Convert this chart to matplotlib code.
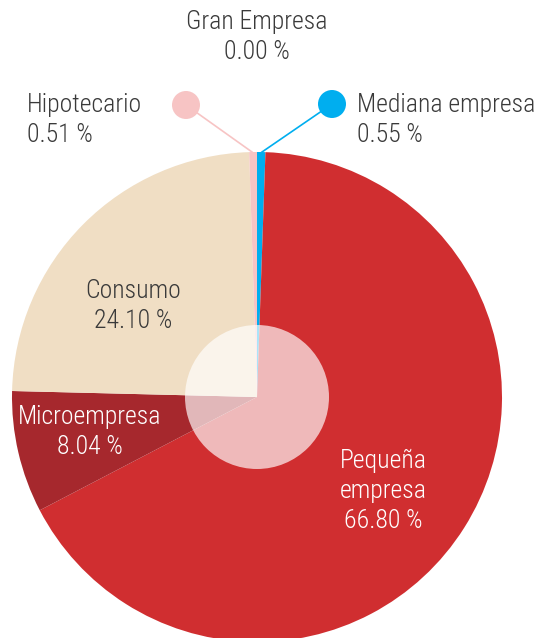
import matplotlib
matplotlib.use("Agg")
import matplotlib.pyplot as plt
from matplotlib.patches import Circle

categories = ["Gran Empresa", "Mediana empresa", "Pequeña\nempresa", "Microempresa", "Consumo", "Hipotecario"]
values = [0.00, 0.55, 66.80, 8.04, 24.10, 0.51]
value_labels = ["0.00 %", "0.55 %", "66.80 %", "8.04 %", "24.10 %", "0.51 %"]
colors = ["#1b4f8a", "#00AEEF", "#D02E30", "#A6282D", "#F0DEC4", "#F7C4C4"]

plt.rcParams['font.family'] = ['Roboto Condensed', 'DejaVu Sans']

W, H = 540, 638
fig = plt.figure(figsize=(W / 100, H / 100), dpi=100)
ax = fig.add_axes([0, 0, 1, 1])

cx, cy, R = 257, H - 397, 245
ax.pie(values, colors=colors, startangle=90, counterclock=False,
       center=(cx, cy), radius=R, frame=True,
       wedgeprops=dict(linewidth=0))
ax.add_patch(Circle((cx, cy), 72, facecolor="white", alpha=0.67, lw=0, zorder=5))

ax.set_xlim(0, W)
ax.set_ylim(0, H)
ax.set_aspect("equal")
ax.axis("off")

dark = "#3a3a3a"
fs = 18.5
fw = 300
ls = 1.32

def y(p):
    return H - p

# Gran Empresa
ax.text(257, y(37), f"{categories[0]}\n{value_labels[0]}", ha="center", va="center",
        fontsize=fs, color=dark, linespacing=ls, fontweight=fw)
# Mediana empresa (callout)
ax.plot([262, 332], [y(152), y(104)], color=colors[1], lw=1.2, zorder=6)
ax.add_patch(Circle((332, y(104)), 14, facecolor=colors[1], lw=0, zorder=7))
ax.text(357, y(120), f"{categories[1]}\n{value_labels[1]}", ha="left", va="center",
        fontsize=fs, color=dark, linespacing=ls, fontweight=fw)
# Hipotecario (callout)
ax.plot([252, 186], [y(152), y(105)], color=colors[5], lw=1.2, zorder=6)
ax.add_patch(Circle((186, y(105)), 14, facecolor=colors[5], lw=0, zorder=7))
ax.text(27, y(120), f"{categories[5]}\n{value_labels[5]}", ha="left", va="center",
        fontsize=fs, color=dark, linespacing=ls, fontweight=fw)
# Consumo
ax.text(133, y(306), f"{categories[4]}\n{value_labels[4]}", ha="center", va="center",
        fontsize=fs, color=dark, linespacing=ls, fontweight=fw, zorder=8)
# Microempresa
ax.text(90, y(432), f"{categories[3]}\n{value_labels[3]}", ha="center", va="center",
        fontsize=fs, color="white", linespacing=ls, fontweight=fw, zorder=8)
# Pequeña empresa
ax.text(383, y(491), f"{categories[2]}\n{value_labels[2]}", ha="center", va="center",
        fontsize=fs, color="white", linespacing=ls, fontweight=fw, zorder=8)

fig.savefig("out.png", dpi=100)
